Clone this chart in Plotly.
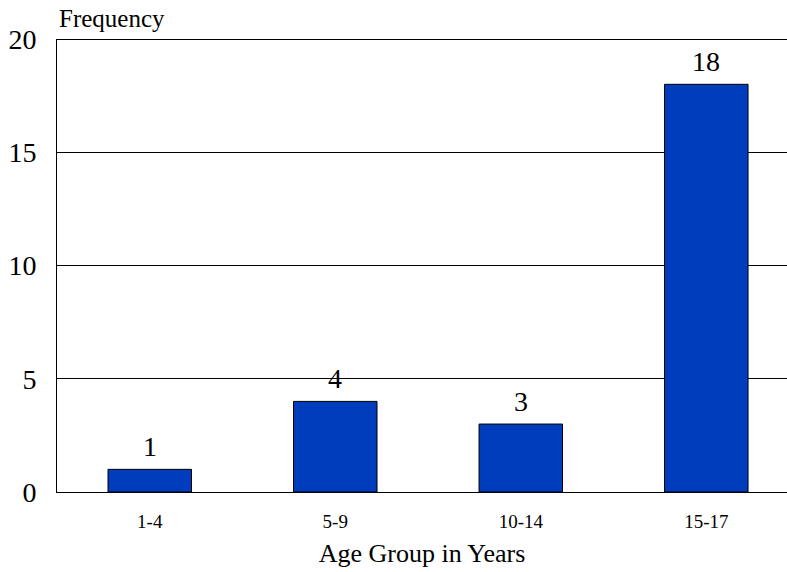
import plotly.graph_objects as go

age_groups = ["1-4", "5-9", "10-14", "15-17"]
frequency = [1, 4, 3, 18]
y_ticks = [0, 5, 10, 15, 20]

FONT = "Liberation Serif"

fig = go.Figure()
fig.add_trace(go.Bar(
    x=list(range(len(age_groups))),
    y=frequency,
    width=0.45,
    marker=dict(color="#003DBD", line=dict(color="black", width=1)),
    cliponaxis=False,
))

# Value labels just above each bar
for i, v in enumerate(frequency):
    fig.add_annotation(x=i, y=v, text=str(v), showarrow=False,
                       xanchor="center", yanchor="bottom", yshift=5,
                       font=dict(family=FONT, size=28, color="black"))

fig.update_layout(
    width=787, height=572,
    margin=dict(l=57, r=0, t=39, b=80),
    paper_bgcolor="white", plot_bgcolor="white",
    font=dict(family=FONT, color="black"),
    showlegend=False,
    xaxis=dict(
        range=[-0.5, 3.435],
        tickvals=list(range(len(age_groups))),
        ticktext=age_groups,
        tickfont=dict(family=FONT, size=19),
        showgrid=False, zeroline=False,
        showline=True, linecolor="black", linewidth=1,
        ticks="", ticklabelstandoff=12,
        title=dict(text="Age Group in Years", font=dict(family=FONT, size=26), standoff=13),
    ),
    yaxis=dict(
        range=[0, 20],
        tickvals=y_ticks,
        tickfont=dict(family=FONT, size=28),
        showgrid=True, gridcolor="black", gridwidth=1,
        zeroline=False,
        showline=True, linecolor="black", linewidth=1,
        ticks="", ticklabelstandoff=14,
    ),
)

# Heavier rule along the top of the plot area
fig.add_shape(type="line", xref="paper", yref="y", x0=0, x1=1, y0=20, y1=20,
              line=dict(color="black", width=2))

fig.add_annotation(text="Frequency", xref="paper", yref="paper", x=0, y=1,
                   xanchor="left", yanchor="bottom", yshift=5, showarrow=False,
                   font=dict(size=25, family=FONT, color="black"))

fig.write_html("out.html")
